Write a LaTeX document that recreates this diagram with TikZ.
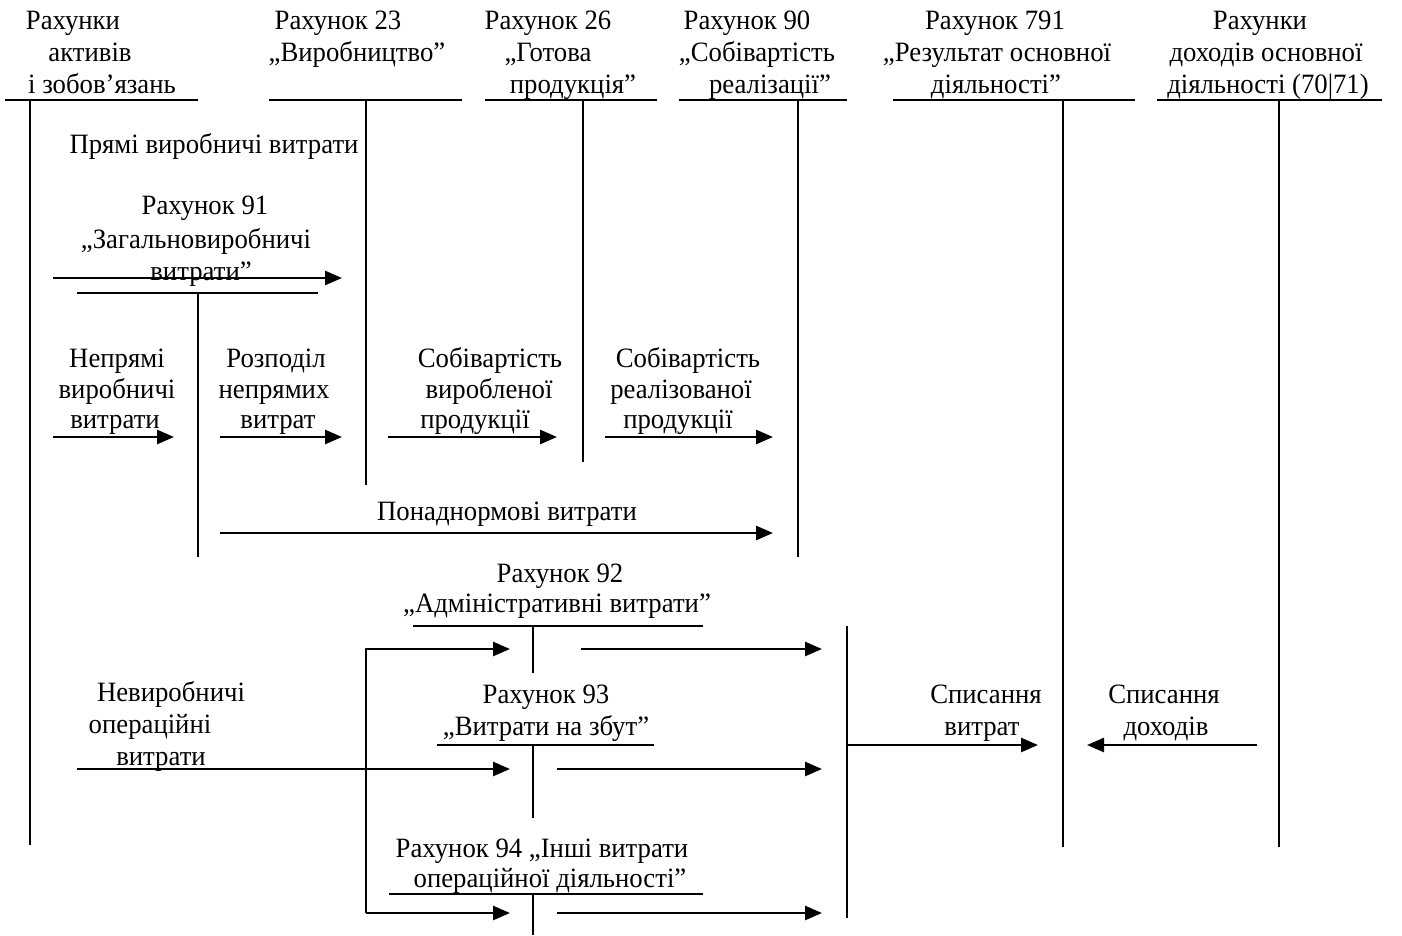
\documentclass[tikz,border=0pt]{standalone}
\usepackage{fontspec}
\setmainfont[FakeStretch=0.955]{Liberation Serif}
\usetikzlibrary{arrows.meta}
\begin{document}
\begin{tikzpicture}[x=1pt,y=-1pt,
  txt/.style={inner sep=0pt, anchor=base, font=\fontsize{28}{32}\selectfont},
  acc/.style={line width=2pt},
  flow/.style={line width=2.6pt, -{Triangle[length=17pt,width=14pt]}},
]
\useasboundingbox (0,0) rectangle (1402,935);

% ---------- header accounts ----------
\node[txt] (h1a) at (73,29) {Рахунки};
\node[txt] (h1b) at (90,61) {активів};
\node[txt] (h1c) at (102,93) {і зобов’язань};

\node[txt] (h2a) at (338,29) {Рахунок 23};
\node[txt] (h2b) at (357,61) {„Виробництво”};

\node[txt] (h3a) at (548,29) {Рахунок 26};
\node[txt] (h3b) at (548,61) {„Готова};
\node[txt] (h3c) at (573,93) {продукція”};

\node[txt] (h4a) at (747,29) {Рахунок 90};
\node[txt] (h4b) at (757,61) {„Собівартість};
\node[txt] (h4c) at (770,93) {реалізації”};

\node[txt] (h5a) at (995,29) {Рахунок 791};
\node[txt] (h5b) at (997,61) {„Результат основної};
\node[txt] (h5c) at (996,93) {діяльності”};

\node[txt] (h6a) at (1260,29) {Рахунки};
\node[txt] (h6b) at (1266,61) {доходів основної};
\node[txt] (h6c) at (1268,93) {діяльності (70|71)};

% account T-lines
\coordinate (a1l) at (5,100);    \coordinate (a1r) at (198,100);
\coordinate (a1t) at (30,100);   \coordinate (a1b) at (30,845);
\coordinate (a2l) at (269,100);  \coordinate (a2r) at (462,100);
\coordinate (a2t) at (366,100);  \coordinate (a2b) at (366,485);
\coordinate (a3l) at (485,100);  \coordinate (a3r) at (657,100);
\coordinate (a3t) at (583,100);  \coordinate (a3b) at (583,462);
\coordinate (a4l) at (679,100);  \coordinate (a4r) at (847,100);
\coordinate (a4t) at (798,100);  \coordinate (a4b) at (798,557);
\coordinate (a5l) at (893,100);  \coordinate (a5r) at (1135,100);
\coordinate (a5t) at (1063,100); \coordinate (a5b) at (1063,847);
\coordinate (a6l) at (1157,100); \coordinate (a6r) at (1382,100);
\coordinate (a6t) at (1279,100); \coordinate (a6b) at (1279,847);
\foreach \a in {a1,a2,a3,a4,a5,a6}{
  \draw[acc] (\a l) -- (\a r);
  \draw[acc] (\a t) -- (\a b);
}

% ---------- account 91 ----------
\node[txt] (pv) at (214,153) {Прямі виробничі витрати};
\node[txt] (r91a) at (205,214) {Рахунок 91};
\node[txt] (r91b) at (196,248) {„Загальновиробничі};
\node[txt] (r91c) at (201,280) {витрати”};
\coordinate (a91l) at (77,293);  \coordinate (a91r) at (318,293);
\coordinate (a91t) at (198,293); \coordinate (a91b) at (198,557);
\draw[acc] (a91l) -- (a91r);
\draw[acc] (a91t) -- (a91b);

\coordinate (f1s) at (53,278); \coordinate (f1e) at (342,278);
\draw[flow] (f1s) -- (f1e);

% ---------- middle flows ----------
\node[txt] (n1a) at (117,367) {Непрямі};
\node[txt] (n1b) at (117,398) {виробничі};
\node[txt] (n1c) at (115,428) {витрати};
\node[txt] (n2a) at (276,367) {Розподіл};
\node[txt] (n2b) at (274,398) {непрямих};
\node[txt] (n2c) at (278,428) {витрат};
\node[txt] (n3a) at (490,367) {Собівартість};
\node[txt] (n3b) at (489,398) {виробленої};
\node[txt] (n3c) at (475,428) {продукції};
\node[txt] (n4a) at (688,367) {Собівартість};
\node[txt] (n4b) at (681,398) {реалізованої};
\node[txt] (n4c) at (678,428) {продукції};

\coordinate (g1s) at (53,437);  \coordinate (g1e) at (174,437);
\coordinate (g2s) at (220,437); \coordinate (g2e) at (342,437);
\coordinate (g3s) at (388,437); \coordinate (g3e) at (557,437);
\coordinate (g4s) at (605,437); \coordinate (g4e) at (773,437);
\draw[flow] (g1s) -- (g1e);
\draw[flow] (g2s) -- (g2e);
\draw[flow] (g3s) -- (g3e);
\draw[flow] (g4s) -- (g4e);

\node[txt] (pn) at (507,520) {Понаднормові витрати};
\coordinate (p1s) at (220,533); \coordinate (p1e) at (773,533);
\draw[flow] (p1s) -- (p1e);

% ---------- accounts 92, 93, 94 ----------
\node[txt] (r92a) at (560,582) {Рахунок 92};
\node[txt] (r92b) at (557,612) {„Адміністративні витрати”};
\coordinate (a92l) at (413,626); \coordinate (a92r) at (703,626);
\coordinate (a92t) at (533,626); \coordinate (a92b) at (533,673);

\node[txt] (r93a) at (546,703) {Рахунок 93};
\node[txt] (r93b) at (546,735) {„Витрати на збут”};
\coordinate (a93l) at (437,745); \coordinate (a93r) at (654,745);
\coordinate (a93t) at (533,745); \coordinate (a93b) at (533,818);

\node[txt] (r94a) at (542,857) {Рахунок 94 „Інші витрати};
\node[txt] (r94b) at (550,887) {операційної діяльності”};
\coordinate (a94l) at (389,894); \coordinate (a94r) at (703,894);
\coordinate (a94t) at (533,894); \coordinate (a94b) at (533,935);

\foreach \a in {a92,a93,a94}{
  \draw[acc] (\a l) -- (\a r);
  \draw[acc] (\a t) -- (\a b);
}

\node[txt] (nv1) at (171,701) {Невиробничі};
\node[txt] (nv2) at (150,733) {операційні};
\node[txt] (nv3) at (161,765) {витрати};

% left bracket
\coordinate (lbt) at (366,649); \coordinate (lbb) at (366,913);
\coordinate (i92) at (510,649); \coordinate (i94) at (510,913);
\draw[flow] (lbb) -- (lbt) -- (i92);
\draw[flow] (lbb) -- (i94);
\coordinate (nvs) at (77,769); \coordinate (i93) at (510,769);
\draw[flow] (nvs) -- (i93);

% outgoing
\coordinate (o92s) at (581,649); \coordinate (o92e) at (822,649);
\coordinate (o93s) at (557,769); \coordinate (o93e) at (822,769);
\coordinate (o94s) at (557,913); \coordinate (o94e) at (822,913);
\draw[flow] (o92s) -- (o92e);
\draw[flow] (o93s) -- (o93e);
\draw[flow] (o94s) -- (o94e);

% right bracket
\coordinate (rbt) at (847,626); \coordinate (rbb) at (847,918);
\draw[acc] (rbt) -- (rbb);
\coordinate (sv) at (847,745); \coordinate (sve) at (1038,745);
\draw[flow] (sv) -- (sve);
\node[txt] (sv1) at (986,703) {Списання};
\node[txt] (sv2) at (982,735) {витрат};

\coordinate (sd) at (1257,745); \coordinate (sde) at (1087,745);
\draw[flow] (sd) -- (sde);
\node[txt] (sd1) at (1164,703) {Списання};
\node[txt] (sd2) at (1166,735) {доходів};
\end{tikzpicture}
\end{document}
